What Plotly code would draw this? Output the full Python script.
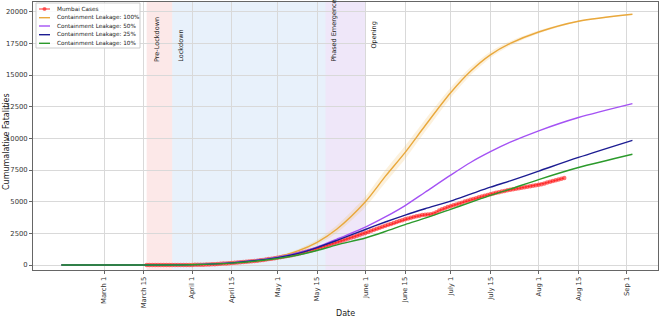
import datetime as dt
import plotly.graph_objects as go

# ---------------- data ----------------
model_dates = ["2020-02-15", "2020-03-01", "2020-03-15", "2020-04-01", "2020-04-15",
               "2020-05-01", "2020-05-08", "2020-05-15", "2020-05-22", "2020-06-01",
               "2020-06-08", "2020-06-15", "2020-06-22", "2020-07-01", "2020-07-08",
               "2020-07-15", "2020-07-22", "2020-08-01", "2020-08-15", "2020-09-03"]
leak_100 = [0, 0, 3, 40, 200, 650, 1100, 1800, 2850, 5000, 7000, 8900, 11000, 13600, 15300,
            16600, 17500, 18400, 19250, 19800]
leak_100_band = [0, 0, 0, 5, 20, 60, 120, 200, 300, 420, 500, 520, 480, 400, 320,
                 250, 180, 120, 60, 30]
leak_50 = [0, 0, 3, 38, 190, 620, 950, 1420, 2050, 3000, 3800, 4700, 5750, 7100, 8100,
           8950, 9700, 10600, 11650, 12750]
leak_25 = [0, 0, 3, 35, 175, 590, 900, 1380, 1950, 2810, 3400, 3950, 4450, 5050, 5600,
           6150, 6650, 7420, 8500, 9850]
leak_10 = [0, 0, 2, 30, 150, 520, 780, 1150, 1600, 2140, 2650, 3200, 3700, 4400, 4950,
           5500, 6000, 6750, 7700, 8750]

mumbai_start = "2020-03-16"
mumbai_cases = [
    # Mar 16-31
    0, 0, 0, 0, 1, 1, 2, 3, 4, 4, 5, 6, 8, 9, 10, 12,
    # April
    14, 17, 21, 26, 32, 40, 50, 60, 72, 85, 100, 115, 130, 150, 170,
    185, 200, 215, 235, 255, 275, 295, 320, 345, 375, 405, 435, 470, 505, 540,
    # May
    575, 610, 650, 690, 735, 780, 830, 880, 935, 990, 1045, 1105, 1165, 1230, 1300,
    1365, 1435, 1505, 1580, 1655, 1730, 1800, 1870, 1945, 2020, 2095, 2170, 2245, 2320, 2395, 2470,
    # June
    2540, 2620, 2700, 2780, 2860, 2940, 3020, 3100, 3175, 3250, 3325, 3400, 3470, 3545, 3620,
    3680, 3740, 3800, 3850, 3900, 3950, 3970, 3990, 4020, 4080, 4180, 4300, 4400, 4490, 4580,
    # July
    4650, 4720, 4790, 4860, 4930, 5010, 5080, 5150, 5215, 5280, 5345, 5410, 5475, 5540, 5600,
    5655, 5705, 5755, 5805, 5855, 5905, 5950, 5990, 6030, 6070, 6110, 6150, 6190, 6230, 6265, 6300,
    # Aug 1-10
    6340, 6390, 6450, 6510, 6570, 6630, 6690, 6750, 6810, 6870,
]

phases = [
    ("2020-03-16", "2020-03-25", "rgba(240,150,150,0.22)"),
    ("2020-03-25", "2020-05-18", "rgba(150,190,235,0.22)"),
    ("2020-05-18", "2020-06-01", "rgba(190,160,230,0.25)"),
]
phase_labels = ["Pre-Lockdown", "Lockdown", "Phased Emergence", "Opening"]
phase_label_x = ["2020-03-19 20:00", "2020-03-28 01:00", "2020-05-20 22:00", "2020-06-03 22:00"]
phase_label_y = [15880, 15880, 15880, 16950]

tick_dates = ["2020-03-01", "2020-03-15", "2020-04-01", "2020-04-15", "2020-05-01", "2020-05-15",
              "2020-06-01", "2020-06-15", "2020-07-01", "2020-07-15", "2020-08-01", "2020-08-15",
              "2020-09-01"]
tick_labels = ["March 1", "March 15", "April 1", "April 15", "May 1", "May 15", "June 1",
               "June 15", "July 1", "July 15", "Aug 1", "Aug 15", "Sep 1"]
y_ticks = [0, 2500, 5000, 7500, 10000, 12500, 15000, 17500, 20000]

series_names = ["Containment Leakage: 100%", "Containment Leakage: 50%",
                "Containment Leakage: 25%", "Containment Leakage: 10%"]
series_colors = ["#e9a83c", "#a452f4", "#1c1c92", "#2b9a2b"]
mumbai_name = "Mumbai Cases"
mumbai_color = "rgba(255,20,20,0.6)"

# ---------------- figure ----------------
W, H = 660, 318
ML, MR, MT, MB = 33, 2, 2, 48
PW, PH = W - ML - MR, H - MT - MB


def px_x(px):
    return (px - ML) / PW


def px_y(py):
    return (H - MB - py) / PH


start = dt.date.fromisoformat(mumbai_start)
mumbai_dates = [start + dt.timedelta(days=i) for i in range(len(mumbai_cases))]

FONT = "DejaVu Sans"
fig = go.Figure()

upper = [v + b for v, b in zip(leak_100, leak_100_band)]
lower = [v - b for v, b in zip(leak_100, leak_100_band)]
fig.add_trace(go.Scatter(x=model_dates, y=upper, mode="lines",
                         line=dict(width=0, shape="spline", smoothing=0.8),
                         showlegend=False, hoverinfo="skip"))
fig.add_trace(go.Scatter(x=model_dates, y=lower, mode="lines",
                         line=dict(width=0, shape="spline", smoothing=0.8),
                         fill="tonexty", fillcolor="rgba(243,190,100,0.22)",
                         showlegend=False, hoverinfo="skip"))

fig.add_trace(go.Scatter(x=mumbai_dates, y=mumbai_cases, mode="lines+markers", name=mumbai_name,
                         line=dict(color="rgba(255,0,0,0.6)", width=1),
                         marker=dict(color=mumbai_color, size=4.5), showlegend=False))
vals_list = [leak_100, leak_50, leak_25, leak_10]
for name, vals, col in zip(series_names, vals_list, series_colors):
    fig.add_trace(go.Scatter(x=model_dates, y=vals, mode="lines", name=name, showlegend=False,
                             line=dict(color=col, width=1.4, shape="spline", smoothing=0.8)))

for x0, x1, col in phases:
    fig.add_shape(type="rect", xref="x", yref="paper", x0=x0, x1=x1, y0=0, y1=1,
                  fillcolor=col, line=dict(width=0), layer="below")

for txt, x, y in zip(phase_labels, phase_label_x, phase_label_y):
    fig.add_annotation(x=x, y=y, text=txt, textangle=-90, showarrow=False,
                       xanchor="center", yanchor="bottom",
                       font=dict(family=FONT, size=6.5, color="#222"))

# ---- custom compact legend (matplotlib style) ----
fig.add_shape(type="rect", xref="paper", yref="paper",
              x0=px_x(36), x1=px_x(140), y0=px_y(48), y1=px_y(3),
              fillcolor="rgba(255,255,255,0.85)", line=dict(color="#cccccc", width=1),
              layer="above")
row_y = [9, 17.7, 26, 34.7, 43.3]
legend_names = [mumbai_name] + series_names
legend_cols = ["rgba(255,0,0,0.6)"] + series_colors
for i, (nm, col) in enumerate(zip(legend_names, legend_cols)):
    yy = px_y(row_y[i])
    fig.add_shape(type="line", xref="paper", yref="paper", x0=px_x(39), x1=px_x(50),
                  y0=yy, y1=yy, line=dict(color=col, width=1.4), layer="above")
    if i == 0:
        fig.add_shape(type="circle", xref="paper", yref="paper",
                      x0=px_x(42.5), x1=px_x(46.5), y0=px_y(row_y[i] + 2), y1=px_y(row_y[i] - 2),
                      fillcolor=mumbai_color, line=dict(width=0), layer="above")
    fig.add_annotation(xref="paper", yref="paper", x=px_x(55), y=yy, text=nm, showarrow=False,
                       xanchor="left", yanchor="middle",
                       font=dict(family=FONT, size=5.7, color="#222"))

# ---- axis titles ----
fig.add_annotation(xref="paper", yref="paper", x=px_x(345), y=px_y(313), text="Date",
                   showarrow=False, xanchor="center", yanchor="middle",
                   font=dict(family=FONT, size=8, color="#222"))
fig.add_annotation(xref="paper", yref="paper", x=px_x(6), y=px_y(142),
                   text="Cumumalative Fatalities", textangle=-90,
                   showarrow=False, xanchor="center", yanchor="middle",
                   font=dict(family=FONT, size=8, color="#222"))

axis_common = dict(showgrid=True, gridcolor="#d9d9d9", gridwidth=1, showline=True,
                   linecolor="#666", linewidth=1, mirror=True, ticks="outside",
                   ticklen=3, tickcolor="#666", zeroline=False, automargin=False,
                   tickfont=dict(family=FONT, size=6.8, color="#333"))

fig.update_layout(
    width=W, height=H,
    margin=dict(l=ML, r=MR, t=MT, b=MB, autoexpand=False),
    paper_bgcolor="white", plot_bgcolor="white",
    font=dict(family=FONT, size=6.8, color="#222"),
    xaxis=dict(range=["2020-02-05", "2020-09-12"], tickvals=tick_dates, ticktext=tick_labels,
               tickangle=-90, **axis_common),
    yaxis=dict(range=[-389, 20770], tickvals=y_ticks, tickformat="d", **axis_common),
    showlegend=False,
)

fig.write_html("out.html",
               config={"displayModeBar": False},
               post_script="document.body.style.margin='0';document.body.style.padding='0';"
                           "document.body.style.overflow='hidden';")
